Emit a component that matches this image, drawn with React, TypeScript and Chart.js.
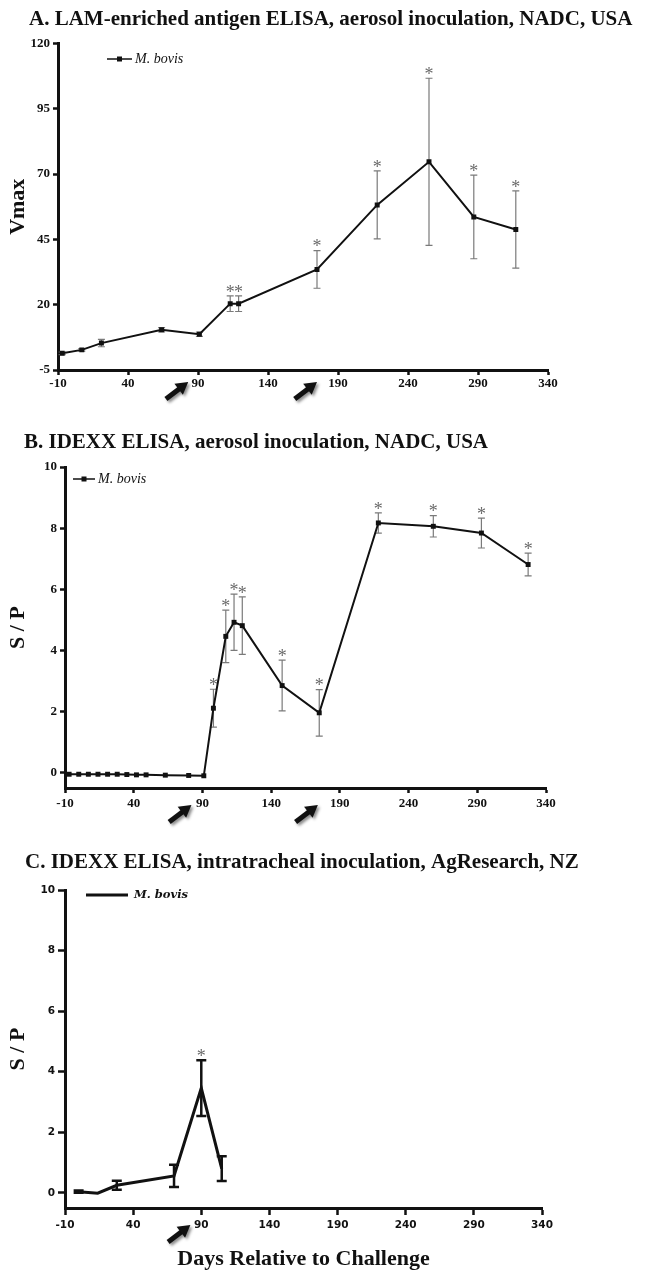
import React, { useEffect, useRef } from "react";
import { Chart, registerables } from "chart.js";

Chart.register(...registerables);

// ---------------- data ----------------
const xTicks = [-10, 40, 90, 140, 190, 240, 290, 340];
const seriesLabel = "M. bovis";

const titleA = "A. LAM-enriched antigen ELISA, aerosol inoculation, NADC, USA";
const yLabelA = "Vmax";
const yTicksA = [-5, 20, 45, 70, 95, 120];
const daysA = [-7, 7, 21, 64, 91, 113, 119, 175, 218, 255, 287, 317];
const vmaxA = [1.4, 2.7, 5.3, 10.4, 8.7, 20.4, 20.4, 33.5, 58.2, 74.7, 53.6, 48.8];
const errA = [0.5, 0.5, 1.4, 0.8, 0.8, 3.0, 3.0, 7.2, 13.0, 32.0, 16.0, 14.8];
const sigA = [false, false, false, false, false, true, true, true, true, true, true, true];
const arrowDaysA = [83, 175];

const titleB = "B. IDEXX ELISA, aerosol inoculation, NADC, USA";
const yLabelB = "S / P";
const yTicksB = [0, 2, 4, 6, 8, 10];
const daysB = [-7, 0, 7, 14, 21, 28, 35, 42, 49, 63, 80, 91, 98, 107, 113, 119, 148, 175, 218, 258, 293, 327];
const spB = [-0.05, -0.05, -0.05, -0.05, -0.05, -0.05, -0.06, -0.07, -0.07, -0.08, -0.09, -0.1, 2.11, 4.46, 4.92, 4.81, 2.85, 1.96, 8.17, 8.06, 7.84, 6.81];
const errB = [0, 0, 0, 0, 0, 0, 0, 0, 0, 0, 0, 0, 0.62, 0.86, 0.92, 0.94, 0.83, 0.76, 0.33, 0.35, 0.49, 0.37];
const sigB = [false, false, false, false, false, false, false, false, false, false, false, false, true, true, true, true, true, true, true, true, true, true];
const arrowDaysB = [82, 174];

const titleC = "C. IDEXX ELISA, intratracheal inoculation, AgResearch, NZ";
const yLabelC = "S / P";
const xLabelC = "Days Relative to Challenge";
const yTicksC = [0, 2, 4, 6, 8, 10];
const daysC = [0, 14, 28, 70, 90, 105];
const spC = [0.04, -0.01, 0.25, 0.56, 3.46, 0.8];
const errC = [0.04, 0, 0.15, 0.37, 0.92, 0.41];
const sigC = [false, false, false, false, true, false];
const arrowDaysC = [82];

// ---------------- layout / style ----------------
const W = 649;

type Spec = {
  canvasTop: number;
  canvasHeight: number;
  area: { left: number; right: number; top: number; bottom: number };
  xHeight: number;
  title: string;
  titleX: number;
  titleY: number;
  yLabel: string;
  xLabel?: string;
  yMin: number;
  yMax: number;
  yTicks: number[];
  days: number[];
  values: number[];
  errors: number[];
  sig: boolean[];
  arrows: number[];
  arrowOffset: number;
  legend: { x0: number; x1: number; y: number; textX: number; marker: boolean; font: string; lineWidth: number };
  lineWidth: number;
  pointRadius: number;
  errColor: string;
  errWidth: number;
  capHalf: number;
  tickFont: { family: string; size: number; weight: string };
  tickLength: number;
  xTickPadding: number;
  yTickPadding: number;
};

const serifTick = { family: "'Liberation Serif', 'Times New Roman', serif", size: 13, weight: "bold" };

const specs: Spec[] = [
  {
    canvasTop: 0,
    canvasHeight: 425,
    area: { left: 58, right: 548, top: 43.5, bottom: 370 },
    xHeight: 30,
    title: titleA,
    titleX: 29,
    titleY: 25,
    yLabel: yLabelA,
    yMin: -5,
    yMax: 120,
    yTicks: yTicksA,
    days: daysA,
    values: vmaxA,
    errors: errA,
    sig: sigA,
    arrows: arrowDaysA,
    arrowOffset: 12,
    legend: { x0: 107, x1: 132, y: 59, textX: 135, marker: true, font: "italic 14px 'Liberation Serif', serif", lineWidth: 1.5 },
    lineWidth: 2,
    pointRadius: 3.5,
    errColor: "#7a7a7a",
    errWidth: 1.2,
    capHalf: 3.5,
    tickFont: serifTick,
    tickLength: 5,
    xTickPadding: 1,
    yTickPadding: 3,
  },
  {
    canvasTop: 425,
    canvasHeight: 420,
    area: { left: 65, right: 546, top: 42, bottom: 363 },
    xHeight: 30,
    title: titleB,
    titleX: 24,
    titleY: 23,
    yLabel: yLabelB,
    yMin: -0.5,
    yMax: 10,
    yTicks: yTicksB,
    days: daysB,
    values: spB,
    errors: errB,
    sig: sigB,
    arrows: arrowDaysB,
    arrowOffset: 17,
    legend: { x0: 73, x1: 95, y: 54, textX: 98, marker: true, font: "italic 14px 'Liberation Serif', serif", lineWidth: 1.5 },
    lineWidth: 2,
    pointRadius: 3.5,
    errColor: "#7a7a7a",
    errWidth: 1.2,
    capHalf: 3.5,
    tickFont: serifTick,
    tickLength: 5,
    xTickPadding: 3,
    yTickPadding: 3,
  },
  {
    canvasTop: 845,
    canvasHeight: 428,
    area: { left: 65, right: 542, top: 45, bottom: 363 },
    xHeight: 65,
    title: titleC,
    titleX: 25,
    titleY: 23,
    yLabel: yLabelC,
    xLabel: xLabelC,
    yMin: -0.5,
    yMax: 10,
    yTicks: yTicksC,
    days: daysC,
    values: spC,
    errors: errC,
    sig: sigC,
    arrows: arrowDaysC,
    arrowOffset: 17,
    legend: { x0: 86, x1: 128, y: 50, textX: 134, marker: false, font: "italic bold 11.5px 'DejaVu Serif', serif", lineWidth: 3 },
    lineWidth: 3,
    pointRadius: 0,
    errColor: "#111",
    errWidth: 2.5,
    capHalf: 5,
    tickFont: { family: "'DejaVu Sans', sans-serif", size: 10.5, weight: "bold" },
    tickLength: 7,
    xTickPadding: 4,
    yTickPadding: 3,
  },
];

function drawArrow(ctx: CanvasRenderingContext2D, tx: number, ty: number) {
  const dx = -21, dy = 16;
  const len = Math.hypot(dx, dy);
  const ux = dx / len, uy = dy / len; // from tip toward tail
  const L = 28, head = 12, hw = 7;
  ctx.save();
  ctx.shadowColor = "rgba(0,0,0,0.45)";
  ctx.shadowBlur = 3;
  ctx.shadowOffsetX = 2;
  ctx.shadowOffsetY = 2;
  ctx.fillStyle = "#111";
  ctx.strokeStyle = "#111";
  ctx.lineWidth = 5;
  ctx.lineCap = "butt";
  ctx.beginPath();
  ctx.moveTo(tx + ux * (head - 1), ty + uy * (head - 1));
  ctx.lineTo(tx + ux * L, ty + uy * L);
  ctx.stroke();
  const bx = tx + ux * head, by = ty + uy * head;
  ctx.beginPath();
  ctx.moveTo(tx, ty);
  ctx.lineTo(bx - uy * hw, by + ux * hw);
  ctx.lineTo(bx + uy * hw, by - ux * hw);
  ctx.closePath();
  ctx.fill();
  ctx.restore();
}

function makeExtras(spec: Spec) {
  return {
    id: "extras",
    beforeDatasetsDraw(chart: any) {
      const { ctx, scales } = chart;
      const x = scales.x, y = scales.y;
      ctx.save();
      ctx.strokeStyle = spec.errColor;
      ctx.lineWidth = spec.errWidth;
      spec.errors.forEach((e, i) => {
        if (!e) return;
        const px = x.getPixelForValue(spec.days[i]);
        const yt = y.getPixelForValue(spec.values[i] + e);
        const yb = y.getPixelForValue(spec.values[i] - e);
        const c = spec.capHalf;
        ctx.beginPath();
        ctx.moveTo(px, yt);
        ctx.lineTo(px, yb);
        ctx.moveTo(px - c, yt);
        ctx.lineTo(px + c, yt);
        ctx.moveTo(px - c, yb);
        ctx.lineTo(px + c, yb);
        ctx.stroke();
      });
      ctx.restore();
    },
    afterDraw(chart: any) {
      const { ctx, scales } = chart;
      const x = scales.x, y = scales.y;
      ctx.save();
      // title
      ctx.fillStyle = "#111";
      ctx.font = "bold 21px 'Liberation Serif', 'Times New Roman', serif";
      ctx.textAlign = "left";
      ctx.textBaseline = "alphabetic";
      ctx.fillText(spec.title, spec.titleX, spec.titleY);
      // legend
      const lg = spec.legend;
      ctx.strokeStyle = "#111";
      ctx.lineWidth = lg.lineWidth;
      ctx.beginPath();
      ctx.moveTo(lg.x0, lg.y);
      ctx.lineTo(lg.x1, lg.y);
      ctx.stroke();
      if (lg.marker) {
        const m = (lg.x0 + lg.x1) / 2;
        ctx.fillRect(m - 2.5, lg.y - 2.5, 5, 5);
      }
      ctx.font = lg.font;
      ctx.textBaseline = "middle";
      ctx.fillText(chart.data.datasets[0].label, lg.textX, lg.y);
      // asterisks
      ctx.fillStyle = "#6a6a6a";
      ctx.font = "18px 'Liberation Serif', serif";
      ctx.textAlign = "center";
      ctx.textBaseline = "middle";
      spec.sig.forEach((s, i) => {
        if (!s) return;
        const px = x.getPixelForValue(spec.days[i]);
        const yt = y.getPixelForValue(spec.values[i] + spec.errors[i]);
        ctx.fillText("*", px, yt - 3);
      });
      ctx.restore();
      // arrows
      spec.arrows.forEach((d) => {
        drawArrow(ctx, x.getPixelForValue(d), x.top + spec.arrowOffset);
      });
    },
  };
}

function Panel({ spec }: { spec: Spec }) {
  const ref = useRef<HTMLCanvasElement | null>(null);
  useEffect(() => {
    if (!ref.current) return;
    const H = spec.canvasHeight;
    const chart = new Chart(ref.current, {
      type: "line",
      data: {
        datasets: [
          {
            label: seriesLabel,
            data: spec.days.map((d, i) => ({ x: d, y: spec.values[i] })),
            borderColor: "#111",
            backgroundColor: "#111",
            borderWidth: spec.lineWidth,
            pointStyle: "rect",
            pointRadius: spec.pointRadius,
            pointBackgroundColor: "#111",
            pointBorderWidth: 0,
            tension: 0,
            fill: false,
          },
        ],
      },
      options: {
        responsive: false,
        animation: false,
        layout: {
          padding: {
            left: 0,
            top: spec.area.top,
            right: W - spec.area.right,
            bottom: H - spec.area.bottom - spec.xHeight,
          },
        },
        plugins: {
          legend: { display: false },
          tooltip: { enabled: false },
          title: { display: false },
        },
        scales: {
          x: {
            type: "linear",
            min: xTicks[0],
            max: xTicks[xTicks.length - 1],
            afterBuildTicks: (s: any) => {
              s.ticks = xTicks.map((v) => ({ value: v }));
            },
            afterFit: (s: any) => {
              s.height = spec.xHeight;
            },
            grid: {
              display: true,
              drawOnChartArea: false,
              drawTicks: true,
              tickLength: spec.tickLength,
              tickWidth: 2.5,
              tickColor: "#111",
            },
            border: { display: true, color: "#111", width: 3 },
            ticks: {
              autoSkip: false,
              maxRotation: 0,
              color: "#111",
              padding: spec.xTickPadding,
              font: spec.tickFont as any,
            },
            title: spec.xLabel
              ? {
                  display: true,
                  text: spec.xLabel,
                  color: "#111",
                  font: { family: "'Liberation Serif', 'Times New Roman', serif", size: 22, weight: "bold" },
                  padding: { top: 0, bottom: 0 },
                }
              : { display: false },
          },
          y: {
            type: "linear",
            min: spec.yMin,
            max: spec.yMax,
            afterBuildTicks: (s: any) => {
              s.ticks = spec.yTicks.map((v) => ({ value: v }));
            },
            afterFit: (s: any) => {
              s.width = spec.area.left;
            },
            grid: {
              display: true,
              drawOnChartArea: false,
              drawTicks: true,
              tickLength: spec.tickLength,
              tickWidth: 2.5,
              tickColor: "#111",
            },
            border: { display: true, color: "#111", width: 3 },
            ticks: {
              color: "#111",
              padding: spec.yTickPadding,
              font: spec.tickFont as any,
            },
            title: {
              display: true,
              text: spec.yLabel,
              color: "#111",
              font: { family: "'Liberation Serif', 'Times New Roman', serif", size: 22, weight: "bold" },
              padding: { top: 5, bottom: 0 },
            },
          },
        },
      },
      plugins: [makeExtras(spec) as any],
    });
    return () => chart.destroy();
  }, [spec]);
  return (
    <canvas
      ref={ref}
      width={W}
      height={spec.canvasHeight}
      style={{ position: "absolute", left: 0, top: spec.canvasTop, width: W, height: spec.canvasHeight }}
    />
  );
}

export default function App() {
  return (
    <div style={{ position: "absolute", left: 0, top: 0, width: W, height: 1273, background: "#fff" }}>
      {specs.map((s, i) => (
        <Panel key={i} spec={s} />
      ))}
    </div>
  );
}
